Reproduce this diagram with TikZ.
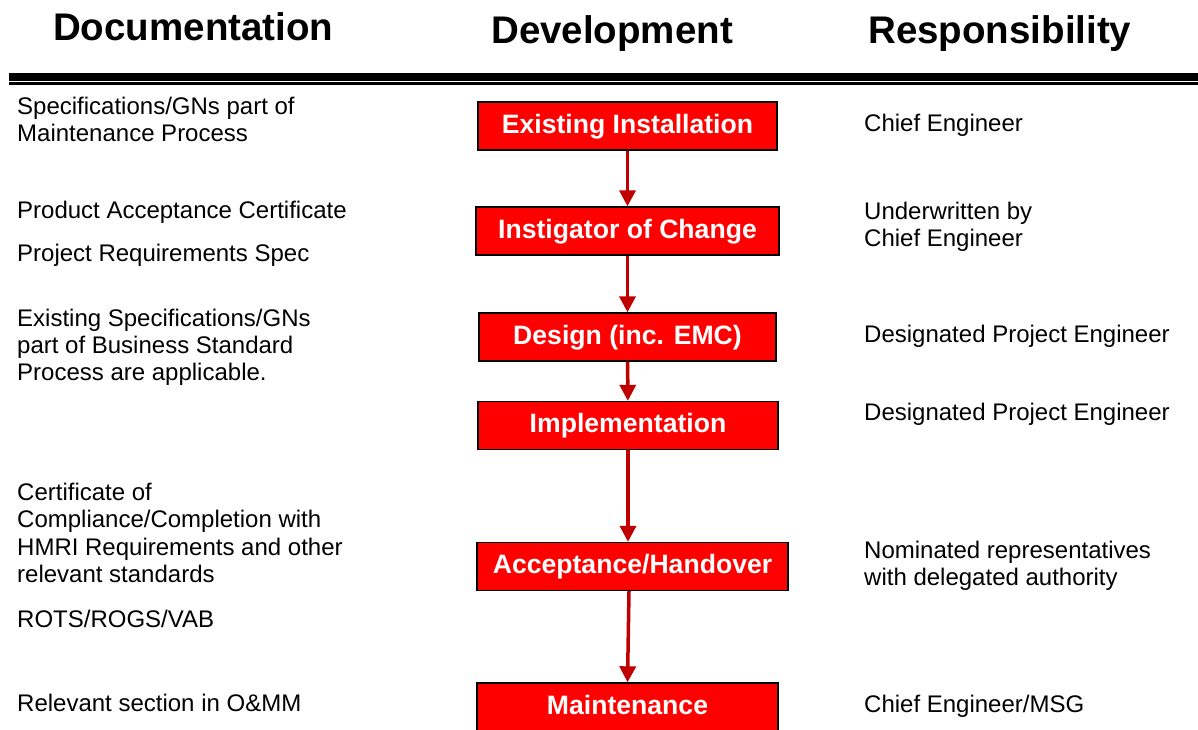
\documentclass[tikz,border=0pt]{standalone}
\usepackage{fontspec}
\setmainfont{Liberation Sans}
\usetikzlibrary{arrows.meta}
\definecolor{boxred}{RGB}{255,0,0}
\definecolor{arrowred}{RGB}{192,0,0}
\begin{document}
\begin{tikzpicture}[x=1pt,y=-1pt,
  head/.style={anchor=base west, inner sep=0pt, font=\fontsize{38.5}{40}\selectfont\bfseries},
  body/.style={anchor=base west, inner sep=0pt, font=\fontsize{24}{27}\selectfont},
  stage/.style={draw=black, line width=1.4pt, fill=boxred, text=white, inner sep=0pt,
    font=\fontsize{26.6}{28}\selectfont\bfseries, text height=19pt, text depth=5pt,
    minimum height=48pt},
  flow/.style={draw=arrowred, line width=3.5pt, -{Triangle[width=16pt,length=16pt]}}]
\useasboundingbox (0,0) rectangle (1198,729);

% column headings
\node[head] (hdoc) at (53,40) {Documentation};
\node[head] (hdev) at (491,43) {Development};
\node[head] (hres) at (868,43) {Responsibility};

% double rule under the headings
\draw[line width=7.4pt] (9,77) -- (1198,77);
\draw[line width=3pt] (9,83.5) -- (1198,83.5);

% development stages
\node[stage, minimum width=299pt] (s1) at (627.5,126) {Existing Installation};
\node[stage, minimum width=303pt] (s2) at (627.5,231) {Instigator of Change};
\node[stage, minimum width=297pt] (s3) at (627.5,337) {Design (inc. EMC)};
\node[stage, minimum width=300pt] (s4) at (628,425.5) {Implementation};
\node[stage, minimum width=311pt] (s5) at (632.5,566.5) {Acceptance/Handover};
\node[stage, minimum width=301pt] (s6) at (627.5,707) {Maintenance};

\draw[flow] (s1) -- (s2);
\draw[flow] (s2) -- (s3);
\draw[flow] (s3) -- (s4);
\draw[flow] (s4.south) -- (s4.south |- s5.north);
\draw[flow] ([xshift=-3.5pt]s5.south) -- (s6.north);

% documentation column
\node[body] (d1) at (17,114) {\vtop{\hbox{Specifications/GNs part of}\hbox{Maintenance Process}}};
\node[body] (d2) at (17,218) {Product Acceptance Certificate};
\node[body] (d3) at (17,261) {Project Requirements Spec};
\node[body] (d4) at (17,326) {\vtop{\hbox{Existing Specifications/GNs}\hbox{part of Business Standard}\hbox{Process are applicable.}}};
\node[body, font=\fontsize{24}{27.6}\selectfont] (d5) at (17,500) {\vtop{\hbox{Certificate of}\hbox{Compliance/Completion with}\hbox{HMRI Requirements and other}\hbox{relevant standards}}};
\node[body] (d6) at (17,627) {ROTS/ROGS/VAB};
\node[body] (d7) at (17,711) {Relevant section in O\&MM};

% responsibility column
\node[body] (r1) at (864,131) {Chief Engineer};
\node[body] (r2) at (864,219) {\vtop{\hbox{Underwritten by}\hbox{Chief Engineer}}};
\node[body] (r3) at (864,342) {Designated Project Engineer};
\node[body] (r4) at (864,420) {Designated Project Engineer};
\node[body] (r5) at (864,558) {\vtop{\hbox{Nominated representatives}\hbox{with delegated authority}}};
\node[body] (r6) at (864,712) {Chief Engineer/MSG};
\end{tikzpicture}
\end{document}
